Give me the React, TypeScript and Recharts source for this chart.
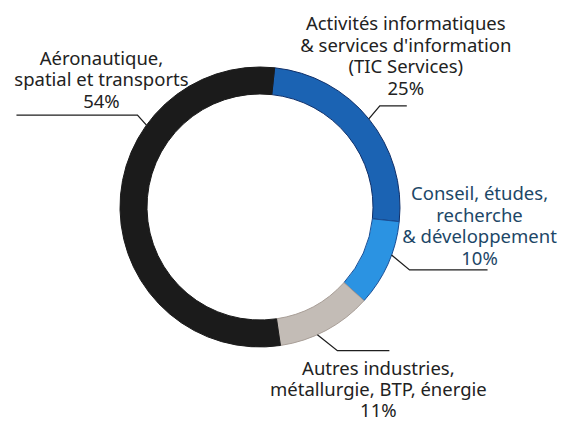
import React from 'react'
import { PieChart, Pie, Cell } from 'recharts'

// Sectors, clockwise from the top
const sectors = [
  'Activités informatiques & services d\u2019information (TIC Services)',
  'Conseil, études, recherche & développement',
  'Autres industries, métallurgie, BTP, énergie',
  'Aéronautique, spatial et transports',
]
const shares = [25, 10, 11, 54]
const labelLines = [
  ['Activités informatiques', '& services d\'information', '(TIC Services)', '25%'],
  ['Conseil, études,', 'recherche', '& développement', '10%'],
  ['Autres industries,', 'métallurgie, BTP, énergie', '11%'],
  ['Aéronautique,', 'spatial et transports', '54%'],
]

const colors = ['#1b63b3', '#2b93e2', '#c3bcb6', '#1b1b1b']
const outlines = ['#10306a', '#1a4f96', '#a99f98', '#1b1b1b']
const textColors = ['#222222', '#1d4767', '#222222', '#222222']

// leader line: angle shift from slice middle, elbow offset, horizontal run, text block offset
const labelLayout = [
  { shift: 0, ex: 11, ey: -13, run: 27, tx: 26, ty: -83, lh: 21.4 },
  { shift: 4, ex: 18, ey: 15, run: 78, tx: 70, ty: -77, lh: 21.4 },
  { shift: -4, ex: 20, ey: 16, run: 52, tx: 41, ty: 17, lh: 20.8 },
  { shift: -37, ex: -9, ey: -10, run: -121, tx: -36, ty: -58, lh: 21.5 },
]

const RAD = Math.PI / 180

const data = sectors.map((name, i) => ({ name, value: shares[i] }))

function renderLabel(props: any) {
  const { cx, cy, midAngle, outerRadius, index } = props
  const l = labelLayout[index]
  const a = midAngle + l.shift
  const x0 = cx + outerRadius * Math.cos(-a * RAD)
  const y0 = cy + outerRadius * Math.sin(-a * RAD)
  const x1 = x0 + l.ex
  const y1 = y0 + l.ey
  const x2 = x1 + l.run
  return (
    <g key={`lbl-${index}`}>
      <polyline
        points={`${x0},${y0} ${x1},${y1} ${x2},${y1}`}
        fill="none"
        stroke="#1e1e1e"
        strokeWidth={1.3}
      />
      <text
        x={x1 + l.tx}
        y={y1 + l.ty}
        textAnchor="middle"
        fill={textColors[index]}
        fontSize={18.5}
        fontFamily="'Noto Sans', 'Open Sans', sans-serif"
      >
        {labelLines[index].map((line, j) => (
          <tspan key={j} x={x1 + l.tx} y={y1 + l.ty + j * l.lh} dominantBaseline="central">
            {line}
          </tspan>
        ))}
      </text>
    </g>
  )
}

export default function App() {
  return (
    <div style={{ position: 'absolute', left: 0, top: 0, width: 571, height: 421, background: '#ffffff' }}>
      <PieChart width={571} height={421} margin={{ top: 0, right: 0, bottom: 0, left: 0 }}>
        <Pie
          data={data}
          dataKey="value"
          nameKey="name"
          cx={260}
          cy={207}
          innerRadius={113}
          outerRadius={140}
          startAngle={84}
          endAngle={-276}
          label={renderLabel}
          labelLine={false}
          isAnimationActive={false}
        >
          {data.map((d, i) => (
            <Cell key={d.name} fill={colors[i]} stroke={outlines[i]} strokeWidth={1} />
          ))}
        </Pie>
      </PieChart>
    </div>
  )
}
